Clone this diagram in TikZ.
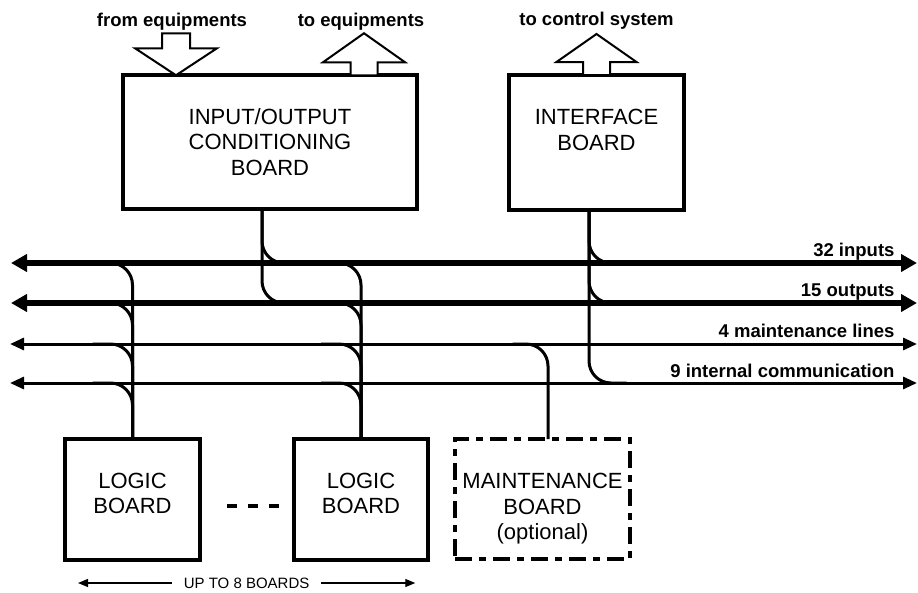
\documentclass[tikz,border=0pt]{standalone}
\usepackage{fontspec}
\setmainfont{Liberation Sans}
\usetikzlibrary{arrows.meta, positioning, calc}

\begin{document}
\begin{tikzpicture}[
    x=1pt, y=-1pt,
    board/.style={draw, line width=4pt, outer sep=0pt, inner sep=0pt, align=center, font=\fontsize{22}{25.5}\selectfont},
    optboard/.style={board, dash pattern={on 17pt off 7pt on 7pt off 7pt}},
    wide/.style={line width=6.5pt, {Triangle[length=16pt,width=17pt]}-{Triangle[length=16pt,width=17pt]}},
    narrow/.style={line width=3pt, {Triangle[length=14pt,width=12pt]}-{Triangle[length=14pt,width=12pt]}},
    tap/.style={line width=3pt, rounded corners=22pt},
    hollow/.style={draw, line width=2pt, fill=white, line join=miter},
    buslabel/.style={anchor=base east, font=\bfseries\fontsize{18.5}{21}\selectfont},
    toplabel/.style={anchor=base, font=\bfseries\fontsize{18.5}{21}\selectfont},
    span/.style={line width=1.3pt, {Triangle[length=10pt,width=8pt]}-{Triangle[length=10pt,width=8pt]}},
]
\useasboundingbox (0,0) rectangle (918,592);

% boards
\node[board, minimum width=294pt, minimum height=133.5pt] (io) at (270,142) {INPUT/OUTPUT\\CONDITIONING\\BOARD};
\node[board, minimum width=175pt, minimum height=135pt] (iface) at (596.5,142.5) {INTERFACE\\BOARD\\\phantom{B}};
\node[board, minimum width=135pt, minimum height=121pt, text depth=12pt] (logic1) at (132.5,499.5) {LOGIC\\BOARD};
\node[board, minimum width=134.5pt, minimum height=121pt, text depth=12pt] (logic2) at (361,499.5) {LOGIC\\BOARD};
\node[optboard, minimum width=175pt, minimum height=120pt, text height=86pt] (maint) at (542.5,499) {MAINTENANCE\\BOARD\\(optional)};

% bus ends
\coordinate (inL) at (11,263);  \coordinate (inR) at (917,263);
\coordinate (outL) at (11,303); \coordinate (outR) at (917,303);
\coordinate (mntL) at (10,344); \coordinate (mntR) at (917,344);
\coordinate (comL) at (10,383); \coordinate (comR) at (917,383);

% taps onto the buses
\draw[tap] ([xshift=-8pt]io.south) |- ($(io.south |- inL)+(30,0)$);
\draw[tap] ([xshift=-8pt]io.south) |- ($(io.south |- outL)+(30,0)$);
\draw[tap] ([xshift=-7.5pt]iface.south) |- ($(iface.south |- inR)+(30,0)$);
\draw[tap] ([xshift=-7.5pt]iface.south) |- ($(iface.south |- outR)+(30,0)$);
\draw[tap] ([xshift=-7.5pt]iface.south) |- ($(iface.south |- comR)+(30,0)$);
\foreach \b in {logic1, logic2} {
    \foreach \l in {inL, outL, mntL, comL}
        \draw[tap] (\b.north) |- ($(\b.north |- \l)+(-40,0)$);
}
\draw[tap] ([xshift=5.5pt]maint.north) |- ($(maint.north |- mntL)+(-30,0)$);

% buses
\draw[wide] (inL) -- (inR);
\draw[wide] (outL) -- (outR);
\draw[narrow] (mntL) -- (mntR);
\draw[narrow] (comL) -- (comR);
\node[buslabel] (inlab) at ($(inR)+(-19,-7)$) {32 inputs};
\node[buslabel] (outlab) at ($(outR)+(-19,-7)$) {15 outputs};
\node[buslabel] (mntlab) at ($(mntR)+(-19,-7)$) {4 maintenance lines};
\node[buslabel] (comlab) at ($(comR)+(-19,-6)$) {9 internal communication};

% hollow arrows on top of the boards
\coordinate (eqin) at ([xshift=-94pt]io.north);
\draw[hollow, shift={(eqin)}] (0,0) -- (41,-27) -- (14,-27) -- (14,-42) -- (-14,-42) -- (-14,-27) -- (-41,-27) -- cycle;
\node[toplabel] (fromeq) at ($(eqin)+(-4,-49)$) {from equipments};

\coordinate (eqout) at ([xshift=94pt]io.north);
\draw[hollow, shift={(eqout)}] (-13.5,0) -- (-13.5,-13) -- (-41,-13) -- (0,-42) -- (41,-13) -- (13.5,-13) -- (13.5,0) -- cycle;
\node[toplabel] (toeq) at ($(eqout)+(-3,-49)$) {to equipments};

\coordinate (ctrl) at (iface.north);
\draw[hollow, shift={(ctrl)}] (-13.5,0) -- (-13.5,-13) -- (-40,-13) -- (0,-41) -- (40,-13) -- (13.5,-13) -- (13.5,0) -- cycle;
\node[toplabel] (toctrl) at ($(ctrl)+(0,-50)$) {to control system};

% more logic boards in between
\draw[line width=4pt, dash pattern=on 10pt off 11pt] ([xshift=27pt,yshift=-6.5pt]logic1.east) -- ([xshift=-14pt,yshift=-6.5pt]logic2.west);
\draw[span] ($(logic1.south west)+(13,23)$) -- node[fill=white, inner xsep=12pt, inner ysep=1pt, font=\fontsize{15}{17}\selectfont] (upto) {UP TO 8 BOARDS} ($(logic2.south east)+(-13,23)$);
\end{tikzpicture}
\end{document}
